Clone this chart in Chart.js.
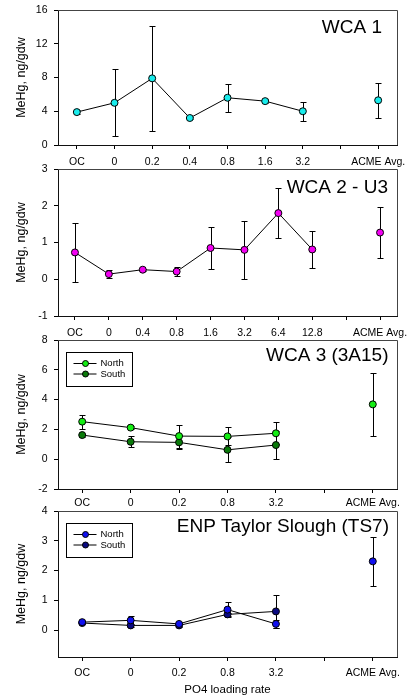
<!DOCTYPE html>
<html>
<head>
<meta charset="utf-8">
<title>MeHg vs PO4 loading rate</title>
<script src="https://cdn.jsdelivr.net/npm/chart.js@4.4.1/dist/chart.umd.min.js"></script>
<style>
  html, body { margin: 0; padding: 0; background: #fff; }
  body { width: 407px; height: 698px; position: relative; overflow: hidden; }
  .panel { position: absolute; left: 0; width: 407px; }
</style>
</head>
<body>
<div class="panel" style="top:0;height:169px"><canvas id="wca1"></canvas></div>
<div class="panel" style="top:159px;height:181px"><canvas id="wca2"></canvas></div>
<div class="panel" style="top:330px;height:183px"><canvas id="wca3"></canvas></div>
<div class="panel" style="top:501px;height:196px"><canvas id="ts7"></canvas></div>
<script>
// --- WCA 1 ---
const wca1Labels = ['OC', '0', '0.2', '0.4', '0.8', '1.6', '3.2', '', 'ACME Avg.'];
const wca1Mean = [3.9, 5.0, 7.9, 3.2, 5.6, 5.2, 4.0, null, 5.3];
const wca1Sd = [0.2, 3.95, 6.25, 0.15, 1.65, 0.25, 1.15, null, 2.1];
const wca1Ticks = [0, 4, 8, 12, 16];

// --- WCA 2 - U3 ---
const wca2Labels = ['OC', '0', '0.4', '0.8', '1.6', '3.2', '6.4', '12.8', '', 'ACME Avg.'];
const wca2Mean = [0.73, 0.14, 0.26, 0.21, 0.85, 0.80, 1.80, 0.81, null, 1.27];
const wca2Sd = [0.81, 0.115, 0.03, 0.115, 0.565, 0.78, 0.675, 0.5, null, 0.685];
const wca2Ticks = [-1, 0, 1, 2, 3];

// --- WCA 3 (3A15) ---
const wca3Labels = ['OC', '0', '0.2', '0.8', '3.2', '', 'ACME Avg.'];
const wca3North = [2.52, 2.12, 1.55, 1.53, 1.74, null, 3.68];
const wca3NorthSd = [0.47, 0.1, 0.77, 0.6, 0.75, null, 2.13];
const wca3South = [1.62, 1.17, 1.13, 0.63, 0.95, null, null];
const wca3SouthSd = [0.1, 0.37, 0.42, 0.83, 0.93, null, null];
const wca3Ticks = [-2, 0, 2, 4, 6, 8];

// --- ENP Taylor Slough (TS7) ---
const ts7Labels = ['OC', '0', '0.2', '0.8', '3.2', '', 'ACME Avg.'];
const ts7North = [0.27, 0.33, 0.21, 0.69, 0.21, null, 2.31];
const ts7NorthSd = [0.03, 0.15, 0.05, 0.26, 0.13, null, 0.83];
const ts7South = [0.24, 0.16, 0.16, 0.53, 0.63, null, null];
const ts7SouthSd = [0.03, 0.05, 0.04, 0.06, 0.56, null, null];
const ts7Ticks = [0, 1, 2, 3, 4];

const FONT = "'Liberation Sans', Arial, Helvetica, sans-serif";
Chart.defaults.font.family = FONT;
Chart.defaults.color = '#000';

// top and right edges of the plot box
const frameBox = {
  id: 'frameBox',
  beforeDatasetsDraw(chart) {
    const { ctx, chartArea: a } = chart;
    ctx.save();
    ctx.strokeStyle = '#444';
    ctx.lineWidth = 1;
    ctx.beginPath();
    ctx.moveTo(a.left, Math.round(a.top) + 0.5);
    ctx.lineTo(Math.round(a.right) + 0.5, Math.round(a.top) + 0.5);
    ctx.lineTo(Math.round(a.right) + 0.5, a.bottom);
    ctx.stroke();
    ctx.restore();
  }
};

// vertical +/- SD whiskers with caps, under the markers
const errorBars = {
  id: 'errorBars',
  beforeDatasetsDraw(chart) {
    const { ctx } = chart;
    const y = chart.scales.y;
    ctx.save();
    ctx.strokeStyle = '#000';
    ctx.lineWidth = 1;
    chart.data.datasets.forEach((ds, i) => {
      const meta = chart.getDatasetMeta(i);
      (ds.errors || []).forEach((e, j) => {
        const v = ds.data[j];
        if (v == null || e == null) return;
        const x = Math.round(meta.data[j].x) + 0.5;
        const y1 = Math.round(y.getPixelForValue(v + e)) + 0.5;
        const y2 = Math.round(y.getPixelForValue(v - e)) + 0.5;
        ctx.beginPath();
        ctx.moveTo(x, y1); ctx.lineTo(x, y2);
        ctx.moveTo(x - 3, y1); ctx.lineTo(x + 3, y1);
        ctx.moveTo(x - 3, y2); ctx.lineTo(x + 3, y2);
        ctx.stroke();
      });
    });
    ctx.restore();
  }
};

// site name in the upper right corner
const panelTitle = {
  id: 'panelTitle',
  afterDraw(chart, args, opts) {
    if (!opts.text) return;
    const { ctx, chartArea: a } = chart;
    ctx.save();
    ctx.font = '19px ' + FONT;
    ctx.fillStyle = '#000';
    ctx.textAlign = 'right';
    ctx.textBaseline = 'alphabetic';
    ctx.fillText(opts.text, a.right + opts.dx, a.top + opts.dy);
    ctx.restore();
  }
};

// boxed North/South key
const keyBox = {
  id: 'keyBox',
  afterDraw(chart, args, opts) {
    if (!opts.show) return;
    const { ctx, chartArea: a } = chart;
    const bx = Math.round(a.left + 8) + 0.5, by = Math.round(a.top + opts.top) + 0.5;
    ctx.save();
    ctx.strokeStyle = '#000';
    ctx.lineWidth = 1;
    ctx.strokeRect(bx, by, 66, 34);
    ctx.font = '9.5px ' + FONT;
    ctx.textBaseline = 'middle';
    chart.data.datasets.forEach((ds, i) => {
      const ry = by + 11 + i * 10.5;
      ctx.beginPath();
      ctx.moveTo(bx + 7, ry); ctx.lineTo(bx + 30, ry);
      ctx.stroke();
      ctx.beginPath();
      ctx.arc(bx + 19, ry, 3, 0, Math.PI * 2);
      ctx.fillStyle = ds.pointBackgroundColor;
      ctx.fill();
      ctx.stroke();
      ctx.fillStyle = '#000';
      ctx.fillText(ds.label, bx + 34, ry);
    });
    ctx.restore();
  }
};

function panel(id, o) {
  new Chart(document.getElementById(id), {
    type: 'line',
    data: {
      labels: o.labels,
      datasets: o.series.map(s => ({
        label: s.label,
        data: s.data,
        errors: s.errors,
        borderColor: '#000',
        borderWidth: 1,
        tension: 0,
        spanGaps: false,
        pointRadius: 3.5,
        pointHoverRadius: 3.5,
        pointBorderWidth: 1,
        pointBorderColor: '#000',
        pointBackgroundColor: s.color
      }))
    },
    options: {
      responsive: true,
      maintainAspectRatio: false,
      animation: false,
      events: [],
      layout: { padding: { top: 10, right: 10, left: 0, bottom: 0 } },
      plugins: {
        legend: { display: false },
        tooltip: { enabled: false },
        panelTitle: { text: o.title, dx: o.titleDx, dy: o.titleDy },
        keyBox: { show: o.series.length > 1, top: o.keyTop }
      },
      scales: {
        x: {
          type: 'category',
          offset: true,
          grid: { offset: false, drawOnChartArea: false, tickLength: 4, color: '#000' },
          border: { color: '#111', width: 1 },
          ticks: { padding: o.tickPad, font: { size: 10.5 }, color: '#000', maxRotation: 0, autoSkip: false },
          title: { display: !!o.xTitle, text: o.xTitle || '', font: { size: 11.5 }, padding: { top: 0, bottom: 0 } },
          afterFit(s) { s.height = o.xHeight; s.paddingLeft = 0; s.paddingRight = 0; }
        },
        y: {
          min: o.min,
          max: o.max,
          afterBuildTicks(s) { s.ticks = o.ticks.map(v => ({ value: v })); },
          grid: { drawOnChartArea: false, tickLength: 4, color: '#000' },
          border: { color: '#111', width: 1 },
          ticks: { padding: 6.5, font: { size: 10.5 }, color: '#000' },
          title: { display: true, text: 'MeHg, ng/gdw', font: { size: 12.5 }, padding: { top: 14, bottom: 0 } },
          afterFit(s) { s.width = 58; s.paddingTop = 0; s.paddingBottom = 0; }
        }
      }
    },
    plugins: [frameBox, errorBars, panelTitle, keyBox]
  });
}

panel('wca1', {
  labels: wca1Labels, ticks: wca1Ticks, min: 0, max: 16,
  series: [{ label: 'WCA 1', data: wca1Mean, errors: wca1Sd, color: '#18ecec' }],
  title: 'WCA 1', titleDx: -15, titleDy: 22.5,
  xHeight: 24, tickPad: 7
});

panel('wca2', {
  labels: wca2Labels, ticks: wca2Ticks, min: -1, max: 3,
  series: [{ label: 'WCA 2 - U3', data: wca2Mean, errors: wca2Sd, color: '#f200f2' }],
  title: 'WCA 2 - U3', titleDx: -9, titleDy: 23.5,
  xHeight: 24, tickPad: 6.5
});

panel('wca3', {
  labels: wca3Labels, ticks: wca3Ticks, min: -2, max: 8,
  series: [
    { label: 'North', data: wca3North, errors: wca3NorthSd, color: '#14ee14' },
    { label: 'South', data: wca3South, errors: wca3SouthSd, color: '#0a7a0a' }
  ],
  title: 'WCA 3 (3A15)', titleDx: -8.5, titleDy: 21, keyTop: 11.5,
  xHeight: 24, tickPad: 4
});

panel('ts7', {
  labels: ts7Labels, ticks: ts7Ticks, min: -0.9, max: 4,
  series: [
    { label: 'North', data: ts7North, errors: ts7NorthSd, color: '#1010f0' },
    { label: 'South', data: ts7South, errors: ts7SouthSd, color: '#0a0a80' }
  ],
  title: 'ENP Taylor Slough (TS7)', titleDx: -8, titleDy: 21, keyTop: 11.5,
  xHeight: 40, tickPad: 5.5, xTitle: 'PO4 loading rate'
});
</script>
</body>
</html>
